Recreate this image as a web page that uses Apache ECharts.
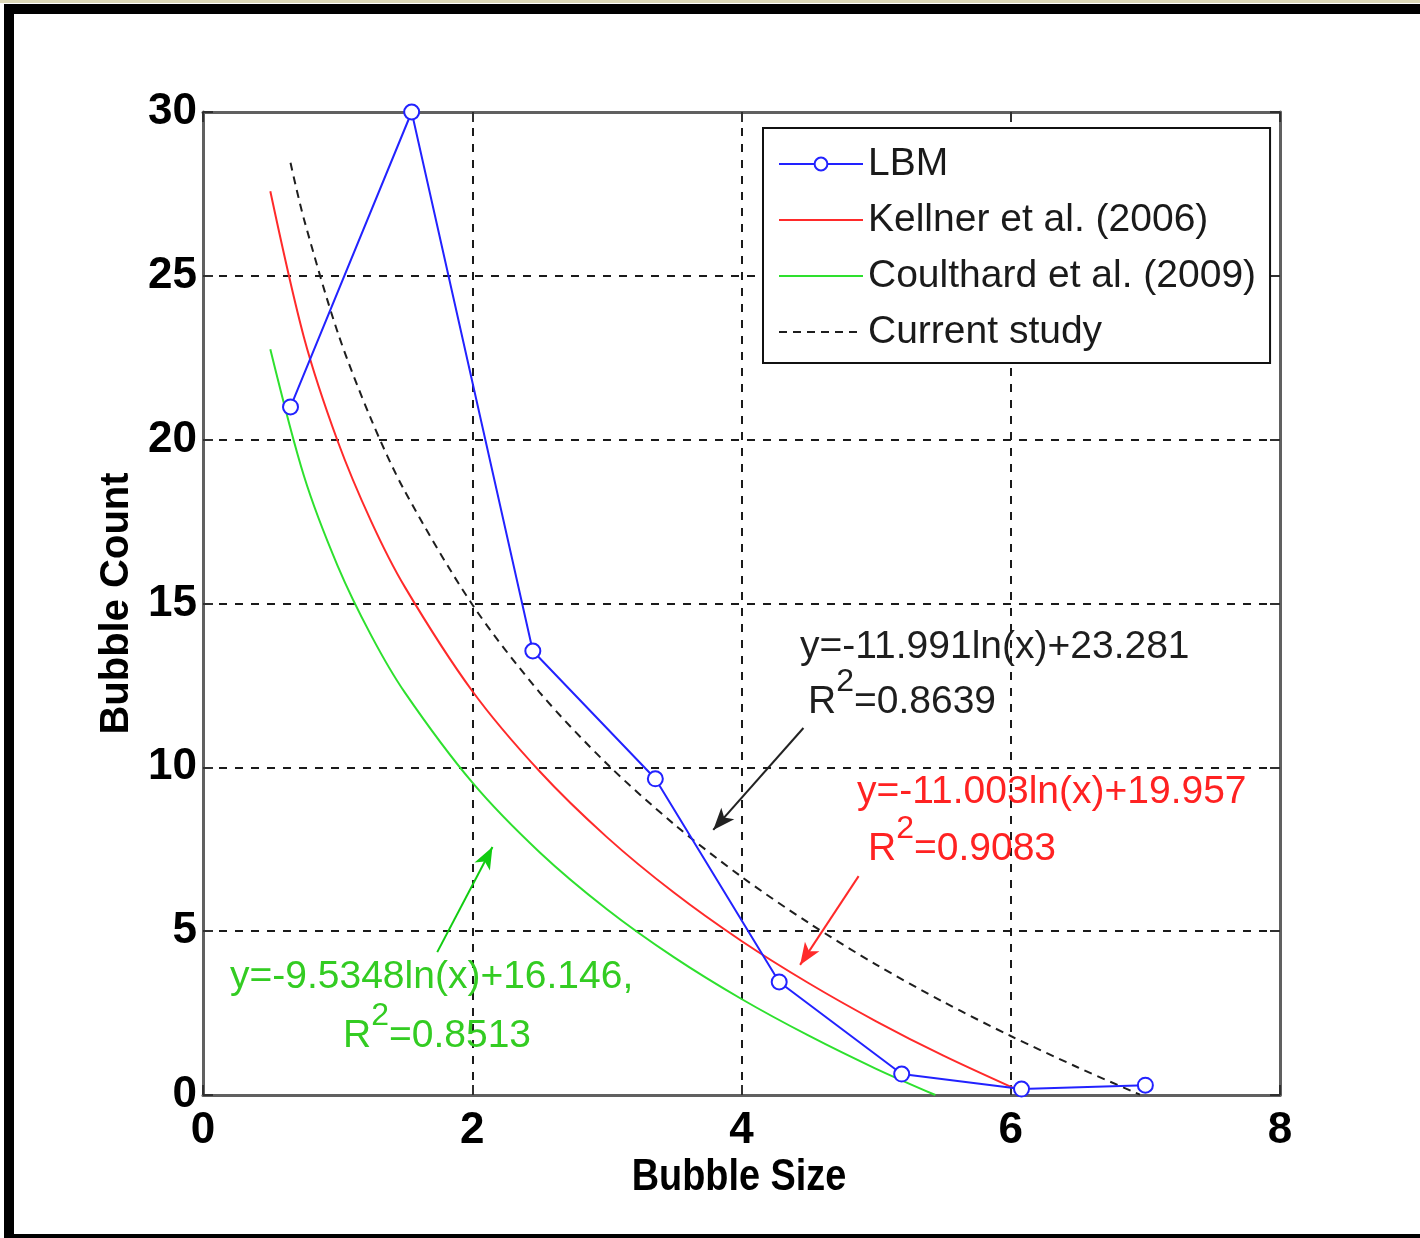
<!DOCTYPE html>
<html>
<head>
<meta charset="utf-8">
<style>
  html, body { margin: 0; padding: 0; background: #ffffff; }
  #chart { width: 1420px; height: 1238px; }
</style>
<script src="https://cdn.jsdelivr.net/npm/echarts@6/dist/echarts.min.js"></script>
</head>
<body>
<div id="chart"></div>
<script>
// ---- data ----
const seriesNames = ['LBM', 'Kellner et al. (2006)', 'Coulthard et al. (2009)', 'Current study'];

const lbmX = [0.65, 1.55, 2.45, 3.36, 4.28, 5.19, 6.08, 7.0];
const lbmY = [21.0, 30.0, 13.55, 9.65, 3.45, 0.64, 0.18, 0.3];

const kellnerX = [0.5, 0.75, 1, 1.25, 1.5, 2, 2.5, 3, 3.5, 4, 4.5, 5, 5.5, 6.07];
const kellnerY = [27.58, 23.12, 19.96, 17.5, 15.5, 12.33, 9.88, 7.87, 6.17, 4.7, 3.41, 2.25, 1.2, 0.12];

const coulthardX = [0.5, 0.75, 1, 1.25, 1.5, 2, 2.5, 3, 3.5, 4, 4.5, 5, 5.44];
const coulthardY = [22.76, 18.89, 16.15, 14.02, 12.28, 9.54, 7.41, 5.67, 4.2, 2.93, 1.81, 0.8, 0.0];

const currentX = [0.65, 0.75, 1, 1.25, 1.5, 2, 2.5, 3, 3.5, 4, 4.5, 5, 5.5, 6, 6.5, 6.96];
const currentY = [28.45, 26.73, 23.28, 20.61, 18.42, 14.97, 12.29, 10.11, 8.26, 6.66, 5.25, 3.98, 2.84, 1.8, 0.84, 0.01];

// annotation arrows (data coordinates: from -> to)
const arrowCurrent = [[4.46, 11.2], [3.79, 8.09]];
const arrowKellner = [[4.87, 6.68], [4.435, 3.97]];
const arrowCoulthard = [[1.74, 4.36], [2.15, 7.57]];

const eqCurrent = ['y=-11.991ln(x)+23.281', '0.8639'];
const eqKellner = ['y=-11.003ln(x)+19.957', '0.9083'];
const eqCoulthard = ['y=-9.5348ln(x)+16.146,', '0.8513'];

const xAxisTitle = 'Bubble Size';
const yAxisTitle = 'Bubble Count';
const xAxisMin = 0, xAxisMax = 8, xAxisStep = 2;
const yAxisMin = 0, yAxisMax = 30, yAxisStep = 5;

// ---- build ----
const zip = (xs, ys) => xs.map((x, i) => [x, ys[i]]);
const FONT = "'Liberation Sans', Arial, sans-serif";

const COL_BLUE = '#2222ff', COL_RED = '#ff2a2a', COL_GREEN = '#2ee02e', COL_BLACK = '#1e1e1e';
const COL_TXT_GREEN = '#33cc22';

function arrowLine(pts, color) {
  return {
    silent: true,
    symbol: ['none', 'arrow'],
    symbolSize: [13, 22],
    label: { show: false },
    lineStyle: { color: color, width: 2, type: 'solid' },
    emphasis: { disabled: true },
    animation: false,
    data: [[{ coord: pts[0] }, { coord: pts[1] }]]
  };
}

function eqText(x, y, lines, color) {
  return [
    {
      type: 'text', left: x[0], top: y[0], z: 100,
      style: { text: lines[0], fill: color, font: '39px ' + FONT }
    },
    {
      type: 'text', left: x[1], top: y[1], z: 100,
      style: {
        text: '{n|R}{s|2}{n|=' + lines[1] + '}',
        rich: {
          n: { fontSize: 39, fontFamily: FONT, fill: color, color: color, lineHeight: 56, verticalAlign: 'bottom' },
          s: { fontSize: 32, fontFamily: FONT, fill: color, color: color, lineHeight: 32, verticalAlign: 'top' }
        }
      }
    }
  ];
}

const chart = echarts.init(document.getElementById('chart'), null, { renderer: 'canvas' });

const tickLabel = { fontFamily: FONT, fontWeight: 'bold', fontSize: 44, color: '#000' };
const axisLine = { show: true, onZero: false, lineStyle: { color: '#606060', width: 3 } };
const axisTick = { show: true, inside: true, length: 10, lineStyle: { color: '#303030', width: 2 } };
const splitLine = { show: true, lineStyle: { color: '#1a1a1a', width: 2, type: [8, 8] } };

const option = {
  backgroundColor: '#ffffff',
  animation: false,
  grid: { left: 203, top: 112, right: 140, bottom: 143, containLabel: false },
  legend: {
    orient: 'vertical',
    left: 763, top: 128,
    padding: [14, 14, 9, 15],
    itemWidth: 84, itemHeight: 16, itemGap: 12,
    backgroundColor: '#ffffff',
    borderColor: '#111', borderWidth: 2,
    textStyle: { fontFamily: FONT, fontSize: 39, color: '#1a1a1a', lineHeight: 44 },
    data: [
      { name: seriesNames[0] },
      { name: seriesNames[1], itemStyle: { opacity: 0 } },
      { name: seriesNames[2], itemStyle: { opacity: 0 } },
      { name: seriesNames[3], itemStyle: { opacity: 0 } }
    ],
    z: 50
  },
  xAxis: [
    {
      type: 'value', min: xAxisMin, max: xAxisMax, interval: xAxisStep, position: 'bottom',
      axisLine: axisLine, axisTick: axisTick, splitLine: splitLine,
      axisLabel: Object.assign({ margin: 14 }, tickLabel)
    },
    {
      type: 'value', min: xAxisMin, max: xAxisMax, interval: xAxisStep, position: 'top',
      axisLine: axisLine, axisTick: axisTick, splitLine: { show: false },
      axisLabel: { show: false }
    }
  ],
  yAxis: [
    {
      type: 'value', min: yAxisMin, max: yAxisMax, interval: yAxisStep, position: 'left',
      name: yAxisTitle, nameLocation: 'middle', nameGap: 64, nameRotate: 90,
      nameTextStyle: { fontFamily: FONT, fontWeight: 'bold', fontSize: 40, color: '#000' },
      axisLine: axisLine, axisTick: axisTick, splitLine: splitLine,
      axisLabel: Object.assign({ margin: 6 }, tickLabel)
    },
    {
      type: 'value', min: yAxisMin, max: yAxisMax, interval: yAxisStep, position: 'right',
      axisLine: axisLine, axisTick: axisTick, splitLine: { show: false },
      axisLabel: { show: false }
    }
  ],
  series: [
    {
      name: seriesNames[0], type: 'line', data: zip(lbmX, lbmY), clip: false,
      symbol: 'emptyCircle', symbolSize: 15, showAllSymbol: true,
      lineStyle: { color: COL_BLUE, width: 2 },
      itemStyle: { color: COL_BLUE, borderColor: COL_BLUE, borderWidth: 2 },
      z: 5
    },
    {
      name: seriesNames[1], type: 'line', data: zip(kellnerX, kellnerY), smooth: 0.3,
      symbol: 'none', lineStyle: { color: COL_RED, width: 2 }, itemStyle: { color: COL_RED },
      markLine: arrowLine(arrowKellner, COL_RED), z: 4
    },
    {
      name: seriesNames[2], type: 'line', data: zip(coulthardX, coulthardY), smooth: 0.3,
      symbol: 'none', lineStyle: { color: COL_GREEN, width: 2 }, itemStyle: { color: COL_GREEN },
      markLine: arrowLine(arrowCoulthard, '#11cc11'), z: 4
    },
    {
      name: seriesNames[3], type: 'line', data: zip(currentX, currentY), smooth: 0.3,
      symbol: 'none', lineStyle: { color: COL_BLACK, width: 2, type: [8, 6] }, itemStyle: { color: COL_BLACK },
      markLine: arrowLine(arrowCurrent, '#222222'), z: 4
    }
  ],
  graphic: [
    { type: 'rect', left: 0, top: 0, shape: { width: 1420, height: 3 }, style: { fill: '#ddd9b8' }, silent: true },
    { type: 'rect', left: 4, top: 4, shape: { width: 1416, height: 10 }, style: { fill: '#000' }, silent: true },
    { type: 'rect', left: 4, top: 4, shape: { width: 10, height: 1234 }, style: { fill: '#000' }, silent: true },
    { type: 'rect', left: 4, top: 1234, shape: { width: 1416, height: 4 }, style: { fill: '#000' }, silent: true },
    {
      type: 'text', x: 739, y: 1178, scaleX: 0.86, z: 100,
      style: { text: xAxisTitle, fill: '#000', font: 'bold 44px ' + FONT, textAlign: 'center', textVerticalAlign: 'middle' }
    }
  ].concat(
    eqText([800, 808], [628, 666], eqCurrent, COL_BLACK),
    eqText([857, 868], [773, 813], eqKellner, '#ff2222'),
    eqText([230, 343], [958, 1000], eqCoulthard, COL_TXT_GREEN)
  )
};

chart.setOption(option);
</script>
</body>
</html>
